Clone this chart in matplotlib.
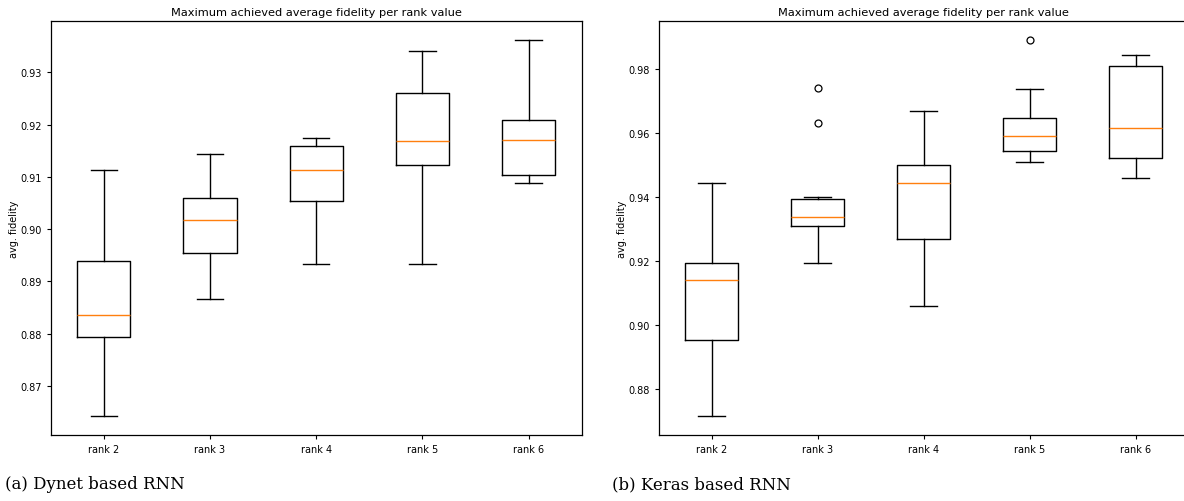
import matplotlib.pyplot as plt

# box statistics per rank, read as (whislo, q1, med, q3, whishi)
ranks = ['rank 2', 'rank 3', 'rank 4', 'rank 5', 'rank 6']

dynet_whislo = [0.8643, 0.8866, 0.8933, 0.8933, 0.9089]
dynet_q1     = [0.8794, 0.8954, 0.9054, 0.9122, 0.9103]
dynet_med    = [0.8836, 0.9017, 0.9113, 0.9169, 0.9170]
dynet_q3     = [0.8940, 0.9059, 0.9159, 0.9261, 0.9208]
dynet_whishi = [0.9113, 0.9143, 0.9174, 0.9341, 0.9362]
dynet_fliers = [[], [], [], [], []]

keras_whislo = [0.8715, 0.9192, 0.9058, 0.9508, 0.9460]
keras_q1     = [0.8953, 0.9310, 0.9268, 0.9542, 0.9522]
keras_med    = [0.9140, 0.9336, 0.9444, 0.9589, 0.9616]
keras_q3     = [0.9194, 0.9392, 0.9501, 0.9648, 0.9810]
keras_whishi = [0.9444, 0.9401, 0.9669, 0.9736, 0.9843]
keras_fliers = [[], [0.9741, 0.9631], [], [0.9891], []]

captions = ['(a) Dynet based RNN', '(b) Keras based RNN']


def make_stats(lo, q1, med, q3, hi, fl):
    stats = []
    for i in range(len(ranks)):
        stats.append(dict(label=ranks[i], whislo=lo[i], q1=q1[i], med=med[i],
                          q3=q3[i], whishi=hi[i], fliers=fl[i]))
    return stats


fig = plt.figure(figsize=(11.84, 5.02), dpi=100)
ax1 = fig.add_axes([50.7/1184, 66.3/502, 531/1184, 413.7/502])
ax2 = fig.add_axes([658.7/1184, 66.3/502, 530/1184, 413.7/502])

datasets = [
    make_stats(dynet_whislo, dynet_q1, dynet_med, dynet_q3, dynet_whishi, dynet_fliers),
    make_stats(keras_whislo, keras_q1, keras_med, keras_q3, keras_whishi, keras_fliers),
]

for ax, stats in zip([ax1, ax2], datasets):
    ax.bxp(stats, widths=0.5,
           flierprops=dict(marker='o', markerfacecolor='none', markeredgecolor='black',
                           markersize=5, markeredgewidth=0.9),
           boxprops=dict(linewidth=1.0), whiskerprops=dict(linewidth=1.0),
           capprops=dict(linewidth=1.0), medianprops=dict(color='#ff7f0e', linewidth=1.0))
    ax.margins(y=0.05)
    ax.set_title('Maximum achieved average fidelity per rank value', fontsize=8.2, pad=4)
    ax.set_ylabel('avg. fidelity', fontsize=7, labelpad=1)
    ax.tick_params(labelsize=7, length=3, width=0.8)
    for sp in ax.spines.values():
        sp.set_linewidth(0.9)

fig.text(5/1184, 1 - 485/502, captions[0], family='DejaVu Serif', fontsize=12, va='center')
fig.text(612/1184, 1 - 485/502, captions[1], family='DejaVu Serif', fontsize=12, va='center')

fig.savefig('out.png', dpi=100)
